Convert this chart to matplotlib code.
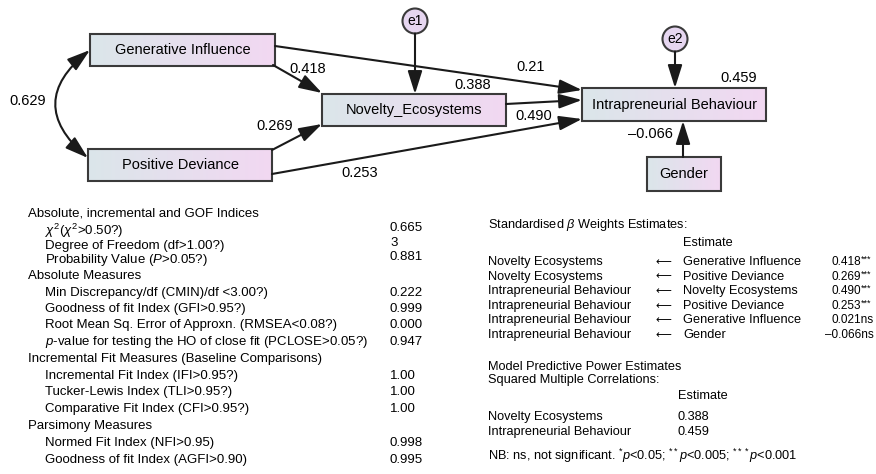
import numpy as np
import matplotlib.pyplot as plt
from matplotlib.patches import Rectangle, Circle, FancyArrowPatch
from matplotlib.colors import LinearSegmentedColormap

plt.rcParams['font.family'] = ['Liberation Sans', 'DejaVu Sans']
plt.rcParams['mathtext.fontset'] = 'custom'
plt.rcParams['mathtext.rm'] = 'Liberation Sans'
plt.rcParams['mathtext.it'] = 'Liberation Sans:italic'

# path model estimates
cov_gi_pd = 0.629
coef_to_ne = [0.418, 0.269]                # Generative Influence, Positive Deviance -> Novelty
coef_to_ib = [0.21, 0.490, 0.253, -0.066]  # GI, Novelty, PD, Gender -> Intrapreneurial
r2_values = [0.388, 0.459]                 # Novelty, Intrapreneurial

# fit indices table
fit_groups = ['Absolute, incremental and GOF Indices', 'Absolute Measures',
              'Incremental Fit Measures (Baseline Comparisons)', 'Parsimony Measures']
fit_labels = [
    [r'$\chi^2$($\chi^2$>0.50?)', 'Degree of Freedom (df>1.00?)', r'Probability Value ($P$>0.05?)'],
    ['Min Discrepancy/df (CMIN)/df <3.00?)', 'Goodness of fit Index (GFI>0.95?)',
     'Root Mean Sq. Error of Approxn. (RMSEA<0.08?)',
     r'$p$-value for testing the HO of close fit (PCLOSE>0.05?)'],
    ['Incremental Fit Index (IFI>0.95?)', 'Tucker-Lewis Index (TLI>0.95?)',
     'Comparative Fit Index (CFI>0.95?)'],
    ['Normed Fit Index (NFI>0.95)', 'Goodness of fit Index (AGFI>0.90)'],
]
fit_values = [['0.665', '3', '0.881'], ['0.222', '0.999', '0.000', '0.947'],
              ['1.00', '1.00', '1.00'], ['0.998', '0.995']]

# standardised weights
beta_dv = ['Novelty Ecosystems', 'Novelty Ecosystems', 'Intrapreneurial Behaviour',
           'Intrapreneurial Behaviour', 'Intrapreneurial Behaviour', 'Intrapreneurial Behaviour']
beta_iv = ['Generative Influence', 'Positive Deviance', 'Novelty Ecosystems',
           'Positive Deviance', 'Generative Influence', 'Gender']
beta_est = [0.418, 0.269, 0.490, 0.253, 0.021, -0.066]
beta_sig = ['***', '***', '***', '***', 'ns', 'ns']

smc_names = ['Novelty Ecosystems', 'Intrapreneurial Behaviour']


def fmt(v, nd=3):
    return f'{v:.{nd}f}'.replace('-', '\u2013')


fig = plt.figure(figsize=(8.76, 4.74), dpi=100)
ax = fig.add_axes([0, 0, 1, 1])
ax.set_xlim(0, 876)
ax.set_ylim(474, 0)
ax.axis('off')

grad = np.linspace(0, 1, 256).reshape(1, -1)
cmap = LinearSegmentedColormap.from_list('box', ['#dbe6ea', '#f2d8f2'])
edge = '#3a3a3a'

boxes = {
    'GI': (90, 34, 275, 66, 'Generative Influence'),
    'PD': (88, 149, 272, 181, 'Positive Deviance'),
    'NE': (322, 94, 506, 126, 'Novelty_Ecosystems'),
    'IB': (582, 88, 766, 121, 'Intrapreneurial Behaviour'),
    'G': (647, 157, 721, 191, 'Gender'),
}
for key, (x0, y0, x1, y1, name) in boxes.items():
    ax.imshow(grad, cmap=cmap, extent=(x0, x1, y1, y0), aspect='auto', zorder=1)
    ax.add_patch(Rectangle((x0, y0), x1 - x0, y1 - y0, fill=False, ec=edge, lw=1.5, zorder=2))
    ax.text((x0 + x1) / 2, (y0 + y1) / 2, name, ha='center', va='center', fontsize=10.5, zorder=3)

errs = {'e1': (415, 21), 'e2': (675, 39)}
for name, (cx, cy) in errs.items():
    ax.add_patch(Circle((cx, cy), 12.5, fc='#e6d6f0', ec=edge, lw=1.5, zorder=2))
    ax.text(cx, cy, name, ha='center', va='center', fontsize=10, zorder=3)


def arrow(p0, p1, style='-|>,head_length=0.7,head_width=0.22', conn='arc3'):
    a = FancyArrowPatch(p0, p1, arrowstyle=style, mutation_scale=20, color='#1a1a1a',
                        lw=1.5, shrinkA=0, shrinkB=0, connectionstyle=conn, zorder=4)
    ax.add_patch(a)


arrow((273, 65), (322, 93))
arrow((272, 150), (322, 124))
arrow((275, 46), (582, 90))
arrow((506, 104), (582, 100))
arrow((272, 174), (582, 119))
arrow((683, 157), (683, 121))
arrow((675, 51.5), (675, 88))
arrow((415, 33.5), (415, 94))
arrow((90, 50), (88, 158), style='<|-|>,head_length=0.7,head_width=0.22', conn='arc3,rad=0.6')

lab_fs = 10.5
ax.text(28, 101, fmt(cov_gi_pd), ha='center', va='center', fontsize=lab_fs)
ax.text(308, 69, fmt(coef_to_ne[0]), ha='center', va='center', fontsize=lab_fs)
ax.text(275, 126, fmt(coef_to_ne[1]), ha='center', va='center', fontsize=lab_fs)
ax.text(531, 67, f'{coef_to_ib[0]:.2f}', ha='center', va='center', fontsize=lab_fs)
ax.text(534, 116, fmt(coef_to_ib[1]), ha='center', va='center', fontsize=lab_fs)
ax.text(360, 173, fmt(coef_to_ib[2]), ha='center', va='center', fontsize=lab_fs)
ax.text(650, 134, fmt(coef_to_ib[3]), ha='center', va='center', fontsize=lab_fs)
ax.text(473, 85, fmt(r2_values[0]), ha='center', va='center', fontsize=lab_fs)
ax.text(739, 78, fmt(r2_values[1]), ha='center', va='center', fontsize=lab_fs)

# left table
fs = 9.5
y = 214
for g, (head, labels, vals) in enumerate(zip(fit_groups, fit_labels, fit_values)):
    ax.text(28, y, head, ha='left', va='center', fontsize=fs)
    y += 17
    step = 14.5 if g == 0 else 16.2
    for i, (lab, val) in enumerate(zip(labels, vals)):
        ax.text(45, y, lab, ha='left', va='center', fontsize=fs)
        ax.text(390, y - (3 if g == 0 else 0), val, ha='left', va='center', fontsize=fs)
        y += step
    y += 1.5

# right table
rfs = 9.2
ax.text(488, 225, r'Standardised $\beta$ Weights Estimates:', ha='left', va='center', fontsize=rfs)
ax.text(683, 243, 'Estimate', ha='left', va='center', fontsize=rfs)
for i, (dv, iv, est, sig) in enumerate(zip(beta_dv, beta_iv, beta_est, beta_sig)):
    yy = 262 + i * 14.6
    ax.text(488, yy, dv, ha='left', va='center', fontsize=rfs)
    ax.text(656, yy, '\u27f5', ha='left', va='center', fontsize=8, family='DejaVu Sans')
    ax.text(683, yy, iv, ha='left', va='center', fontsize=rfs)
    if sig == 'ns':
        x_val = 831 if est >= 0 else 825
        ax.text(x_val, yy, fmt(est) + 'ns', ha='left', va='center', fontsize=8.5)
    else:
        t = ax.text(831, yy, fmt(est), ha='left', va='center', fontsize=8.5)
        ax.annotate(sig, xy=(1, 1), xycoords=t, xytext=(0.3, 0.8), textcoords='offset points',
                    ha='left', va='top', fontsize=6.5)

ax.text(488, 367, 'Model Predictive Power Estimates', ha='left', va='center', fontsize=rfs)
ax.text(488, 380, 'Squared Multiple Correlations:', ha='left', va='center', fontsize=rfs)
ax.text(678, 396, 'Estimate', ha='left', va='center', fontsize=rfs)
for i, (nm, v) in enumerate(zip(smc_names, r2_values)):
    ax.text(488, 417 + i * 15, nm, ha='left', va='center', fontsize=rfs)
    ax.text(678, 417 + i * 15, fmt(v), ha='left', va='center', fontsize=rfs)
ax.text(488, 456, r'NB: ns, not significant. $^{*}p$<0.05; $^{**}p$<0.005; $^{***}p$<0.001',
        ha='left', va='center', fontsize=rfs)

fig.savefig('out.png', dpi=100)
